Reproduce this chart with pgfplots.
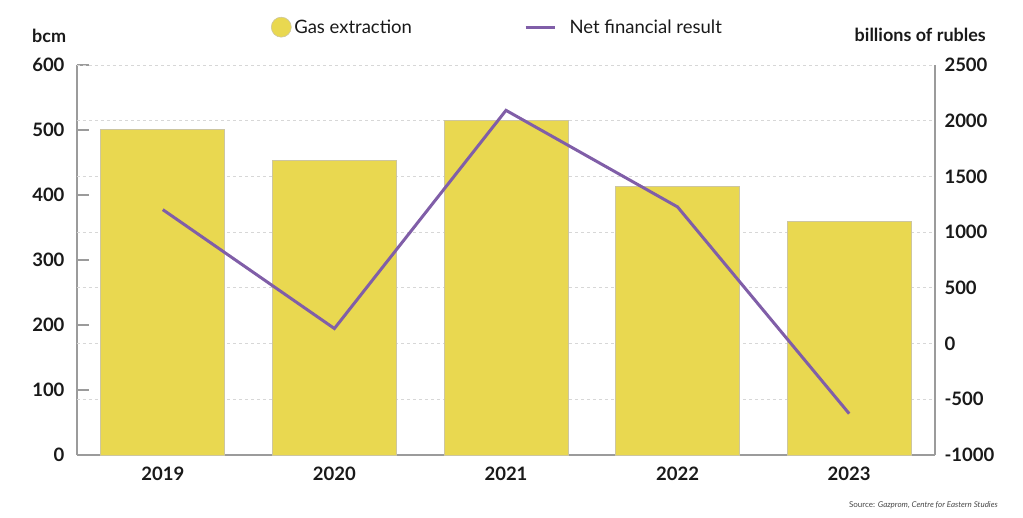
\documentclass[border=0pt]{standalone}
\usepackage{pgfplots}
\pgfplotsset{compat=1.18}
\usepackage{fontspec}
\setmainfont{Lato}
\definecolor{barcol}{RGB}{233,216,80}
\definecolor{baredge}{RGB}{205,198,160}
\definecolor{linecol}{RGB}{128,94,168}
\definecolor{axcol}{RGB}{155,155,155}
\definecolor{gridcol}{RGB}{215,215,215}
\definecolor{txt}{RGB}{25,25,25}
\begin{document}
\begin{tikzpicture}[x=1pt,y=1pt]
\useasboundingbox (0,0) rectangle (1023,517);
\begin{axis}[
  at={(77pt,62pt)}, anchor=south west,
  width=858pt, height=390pt, scale only axis,
  xmin=-0.5, xmax=4.5, ymin=0, ymax=600,
  axis x line*=bottom, axis y line*=left,
  axis line style={axcol, line width=2pt},
  xtick={0,1,2,3,4}, xticklabels={2019,2020,2021,2022,2023},
  x tick style={draw=none},
  ytick={0,100,...,600},
  y tick style={axcol, line width=2pt},
  tick align=inside, major tick length=12pt,
  ticklabel style={font=\bfseries\fontsize{18.5}{22}\selectfont, text=txt},
  /pgf/number format/assume math mode=true,
  yticklabel style={xshift=-9pt},
  xticklabel style={yshift=-8pt},
  extra y ticks={85.714,171.429,257.143,342.857,428.571,514.286,600},
  extra y tick labels={},
  extra y tick style={grid=major, major tick length=0pt},
  extra tick style={grid style={gridcol, line width=0.8pt, dash pattern=on 3pt off 3pt}},
]
\addplot[ybar, bar width=124pt, fill=barcol, draw=baredge, line width=0.8pt]
  coordinates {(0,501.2) (1,452.7) (2,514.8) (3,412.6) (4,359.0)};
\end{axis}
\begin{axis}[
  at={(77pt,62pt)}, anchor=south west,
  width=858pt, height=390pt, scale only axis,
  xmin=-0.5, xmax=4.5, ymin=-1000, ymax=2500,
  axis x line=none, axis y line*=right,
  axis line style={axcol, line width=2pt},
  ytick={-1000,-500,...,2500},
  major tick length=0pt,
  ticklabel style={font=\bfseries\fontsize{18.5}{22}\selectfont, text=txt},
  /pgf/number format/assume math mode=true,
  /pgf/number format/1000 sep={},
  yticklabel style={xshift=6pt},
  legend columns=2,
  legend style={draw=none, fill=none, at={(0.49,1.097)}, anchor=center,
    font=\fontsize{18.5}{22}\selectfont, text=txt,
    /tikz/every even column/.append style={column sep=110pt}},
]
\addlegendimage{legend image code/.code={\path[draw=none, fill=none] (0pt,0pt) -- (21pt,0pt); \draw[fill=barcol, draw=baredge, line width=0.6pt] (10pt,0pt) circle (10pt);}}
\addlegendentry{Gas extraction}
\addplot[linecol, line width=3pt, mark=none,
  legend image code/.code={\path[draw=none, fill=none] (0pt,0pt) -- (42pt,0pt); \draw[linecol, line width=3pt] (0pt,0pt) -- (29pt,0pt);}]
  coordinates {(0,1202) (1,135) (2,2093) (3,1226) (4,-629)};
\addlegendentry{Net financial result}
\end{axis}
\node[anchor=base west, font=\bfseries\fontsize{18}{21}\selectfont, text=txt, inner sep=0pt] at (32,474) {bcm};
\node[anchor=base east, font=\bfseries\fontsize{18}{21}\selectfont, text=txt, inner sep=0pt] at (986,475) {billions of rubles};
\node[anchor=base east, font=\fontsize{8}{10}\selectfont, text=txt!80, inner sep=0pt] at (998,10) {Source: \textit{Gazprom, Centre for Eastern Studies}};
\end{tikzpicture}
\end{document}
